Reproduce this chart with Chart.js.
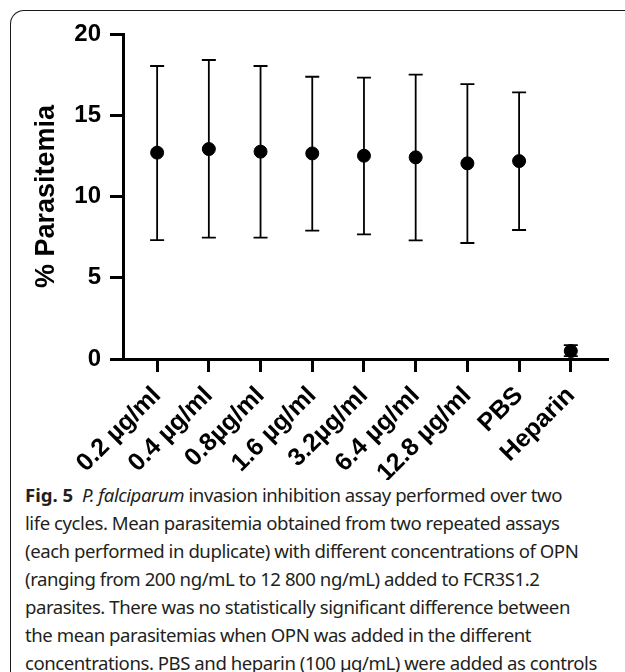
<!DOCTYPE html>
<html>
<head>
<meta charset="utf-8">
<script src="https://cdn.jsdelivr.net/npm/chart.js@4/dist/chart.umd.min.js"></script>
<style>
  html, body { margin: 0; padding: 0; background: #fff; }
  body { width: 625px; height: 672px; position: relative; overflow: hidden; }
  #frame {
    position: absolute; left: 10px; top: 10px; width: 700px; height: 700px;
    border: 1.5px solid #1a1a1a; border-right: none; border-bottom: none;
    border-radius: 14px 0 0 0;
  }
  #wrap { position: absolute; left: 0; top: 0; width: 625px; height: 480px; }
  #caption {
    position: absolute; left: 25px; top: 481px; width: 600px;
    font-family: "Noto Sans", "Open Sans", sans-serif; font-size: 18.6px;
    line-height: 28px; color: #231f20; white-space: nowrap; letter-spacing: -0.45px;
  }
  #caption b { font-weight: bold; letter-spacing: 0; }
</style>
</head>
<body>
<div id="frame"></div>
<div id="wrap"><canvas id="invasionChart"></canvas></div>
<div id="caption">
  <b>Fig. 5</b>&nbsp; <i>P. falciparum</i> invasion inhibition assay performed over two<br>
  life cycles. Mean parasitemia obtained from two repeated assays<br>
  (each performed in duplicate) with different concentrations of OPN<br>
  (ranging from 200 ng/mL to 12 800 ng/mL) added to FCR3S1.2<br>
  parasites. There was no statistically significant difference between<br>
  the mean parasitemias when OPN was added in the different<br>
  concentrations. PBS and heparin (100 µg/mL) were added as controls
</div>
<script>
var categories = ['0.2 µg/ml', '0.4 µg/ml', '0.8µg/ml', '1.6 µg/ml', '3.2µg/ml', '6.4 µg/ml', '12.8 µg/ml', 'PBS', 'Heparin'];
var meanValues = [12.70, 12.92, 12.76, 12.65, 12.51, 12.41, 12.04, 12.18, 0.49];
var upperValues = [18.03, 18.40, 18.03, 17.37, 17.31, 17.50, 16.92, 16.41, 0.86];
var lowerValues = [7.32, 7.47, 7.47, 7.90, 7.67, 7.30, 7.14, 7.94, 0.18];
var yTicks = [0, 5, 10, 15, 20];

var points = meanValues.map(function (v, i) { return { x: i, y: v }; });

// whiskers are drawn under the dots, from the same scales
var errorBars = {
    id: 'errorBars',
    beforeDatasetsDraw: function (chart) {
        var ctx = chart.ctx;
        var xs = chart.scales.x, ys = chart.scales.y;
        ctx.save();
        ctx.strokeStyle = '#000';
        ctx.lineWidth = 1.8;
        for (var i = 0; i < meanValues.length; i++) {
            var px = xs.getPixelForValue(i);
            var top = ys.getPixelForValue(upperValues[i]);
            var bot = ys.getPixelForValue(lowerValues[i]);
            ctx.beginPath();
            ctx.moveTo(px, top); ctx.lineTo(px, bot);
            ctx.moveTo(px - 7, top); ctx.lineTo(px + 7, top);
            ctx.moveTo(px - 7, bot); ctx.lineTo(px + 7, bot);
            ctx.stroke();
        }
        ctx.restore();
    }
};

var tickFont = { family: 'Liberation Sans, Arial, sans-serif', size: 24, weight: 'bold' };
var xTickFont = { family: 'Liberation Sans, Arial, sans-serif', size: 25, weight: 'bold' };

var invasionChart = new Chart(document.getElementById('invasionChart'), {
    type: 'scatter',
    data: {
        datasets: [{
            data: points,
            backgroundColor: '#000',
            borderColor: '#000',
            pointRadius: 6.5,
            pointHoverRadius: 6.5
        }]
    },
    options: {
        responsive: true,
        maintainAspectRatio: false,
        animation: false,
        layout: { padding: { top: 34, right: 18, left: 0, bottom: 0 } },
        plugins: { legend: { display: false }, tooltip: { enabled: false } },
        scales: {
            x: {
                type: 'linear',
                min: -0.66,
                max: 8.7,
                afterBuildTicks: function (scale) {
                    scale.ticks = categories.map(function (c, i) { return { value: i }; });
                },
                afterFit: function (scale) { scale.height = 121; },
                grid: { drawOnChartArea: false, color: '#000', lineWidth: 3, tickLength: 13 },
                border: { color: '#000', width: 3 },
                ticks: {
                    autoSkip: false,
                    maxRotation: 45,
                    minRotation: 45,
                    padding: 9,
                    color: '#000',
                    font: xTickFont,
                    callback: function (v) { return categories[v]; }
                }
            },
            y: {
                min: 0,
                max: 20,
                afterBuildTicks: function (scale) {
                    scale.ticks = yTicks.map(function (v) { return { value: v }; });
                },
                afterFit: function (scale) { scale.width = 123; },
                grid: { drawOnChartArea: false, color: '#000', lineWidth: 3, tickLength: 13 },
                border: { color: '#000', width: 3 },
                ticks: { padding: 9, color: '#000', font: tickFont },
                title: {
                    display: true,
                    text: '% Parasitemia',
                    color: '#000',
                    font: { family: 'Liberation Sans, Arial, sans-serif', size: 27, weight: 'bold' },
                    padding: { top: 30, bottom: 0 }
                }
            }
        }
    },
    plugins: [errorBars]
});
</script>
</body>
</html>
